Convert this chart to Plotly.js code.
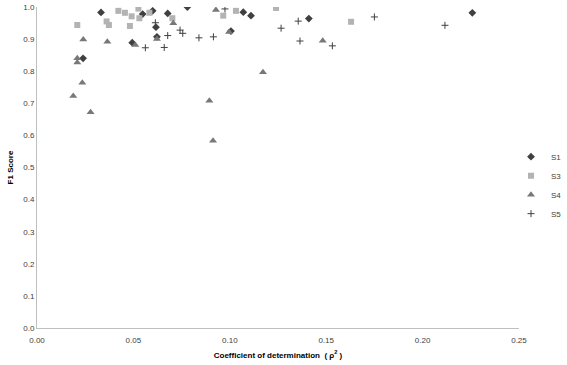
<!DOCTYPE html>
<html>
<head>
<meta charset="utf-8">
<script src="https://cdn.plot.ly/plotly-3.0.1.min.js"></script>
<style>html,body{margin:0;padding:0;background:#fff;}#chart{width:567px;height:365px;}</style>
</head>
<body>
<div id="chart"></div>
<script>
// S1 (diamonds)
const s1X = [0.0332, 0.0239, 0.0548, 0.0600, 0.0678, 0.0780, 0.0617, 0.0622, 0.1070, 0.1110, 0.0494, 0.1006, 0.1410, 0.2258];
const s1Y = [0.983, 0.840, 0.978, 0.988, 0.980, 1.000, 0.937, 0.907, 0.984, 0.973, 0.889, 0.925, 0.964, 0.982];
// S3 (squares)
const s3X = [0.0209, 0.0422, 0.0456, 0.0361, 0.0373, 0.0491, 0.0526, 0.0531, 0.0482, 0.0583, 0.0702, 0.0966, 0.1032, 0.1240, 0.1629];
const s3Y = [0.944, 0.988, 0.982, 0.955, 0.944, 0.971, 0.995, 0.965, 0.941, 0.982, 0.965, 0.973, 0.988, 0.997, 0.954];
// S4 (triangles)
const s4X = [0.0209, 0.0209, 0.0240, 0.0365, 0.0235, 0.0188, 0.0278, 0.0510, 0.0707, 0.0928, 0.0622, 0.0996, 0.0894, 0.0913, 0.1172, 0.1482];
const s4Y = [0.840, 0.827, 0.899, 0.892, 0.764, 0.723, 0.672, 0.882, 0.949, 0.991, 0.900, 0.922, 0.708, 0.583, 0.797, 0.895];
// S5 (plus)
const s5X = [0.0562, 0.0614, 0.0678, 0.0660, 0.0742, 0.0756, 0.0840, 0.0915, 0.0975, 0.1266, 0.1355, 0.1364, 0.1532, 0.1750, 0.2116];
const s5Y = [0.873, 0.951, 0.911, 0.874, 0.928, 0.918, 0.904, 0.907, 0.994, 0.934, 0.956, 0.894, 0.879, 0.969, 0.943];

const xTickVals = [0, 0.05, 0.10, 0.15, 0.20, 0.25];
const xTickText = ['0.00', '0.05', '0.10', '0.15', '0.20', '0.25'];
const yTickVals = [0, 0.1, 0.2, 0.3, 0.4, 0.5, 0.6, 0.7, 0.8, 0.9, 1.0];
const yTickText = ['0.0', '0.1', '0.2', '0.3', '0.4', '0.5', '0.6', '0.7', '0.8', '0.9', '1.0'];

const traces = [
  {x: s1X, y: s1Y, name: 'S1', mode: 'markers', type: 'scatter',
   marker: {symbol: 'diamond', size: 6, color: '#404040'}},
  {x: s3X, y: s3Y, name: 'S3', mode: 'markers', type: 'scatter',
   marker: {symbol: 'square', size: 6, color: '#b3b3b3'}},
  {x: s4X, y: s4Y, name: 'S4', mode: 'markers', type: 'scatter',
   marker: {symbol: 'triangle-up', size: 7, color: '#787878'}},
  {x: s5X, y: s5Y, name: 'S5', mode: 'markers', type: 'scatter',
   marker: {symbol: 'cross-thin', size: 5, color: '#404040', line: {color: '#404040', width: 1}}}
];

const layout = {
  width: 567, height: 365,
  margin: {l: 37, r: 0, t: 7, b: 37},
  paper_bgcolor: '#fff', plot_bgcolor: '#fff',
  font: {family: 'Liberation Sans, Arial, sans-serif', size: 8, color: '#404040'},
  showlegend: true,
  legend: {x: 1, xanchor: 'right', y: 0.445, yanchor: 'middle', font: {size: 8, color: '#404040'},
           itemwidth: 30, tracegroupgap: 0, bgcolor: 'rgba(0,0,0,0)'},
  xaxis: {domain: [0, 0.9094], range: [0, 0.25], tickvals: xTickVals, ticktext: xTickText, showgrid: false, zeroline: false,
          showline: true, linecolor: '#bfbfbf', linewidth: 1, ticks: '', ticklabelstandoff: 4,
          title: {text: '<b>Coefficient of determination  ( ρ<sup>2</sup> )</b>', font: {size: 8, color: '#000'}, standoff: 8}},
  yaxis: {range: [0, 1], tickvals: yTickVals, ticktext: yTickText, showgrid: false, zeroline: false,
          showline: true, linecolor: '#bfbfbf', linewidth: 1, ticks: '',
          title: {text: '<b>F1 Score</b>', font: {size: 8, color: '#000'}, standoff: 8}}
};

Plotly.newPlot('chart', traces, layout, {displayModeBar: false, staticPlot: true});
</script>
</body>
</html>
